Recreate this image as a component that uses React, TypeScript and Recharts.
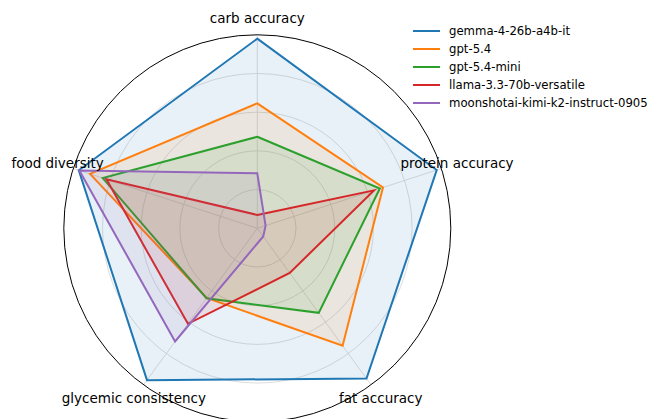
import { RadarChart, Radar, PolarGrid, PolarAngleAxis, PolarRadiusAxis, Legend } from 'recharts';

const AXES = ['carb accuracy', 'protein accuracy', 'fat accuracy', 'glycemic consistency', 'food diversity'];

const GEMMA = [0.98, 0.975, 0.96, 0.97, 0.97];
const GPT54 = [0.646, 0.683, 0.75, 0.445, 0.909];
const GPT54_MINI = [0.473, 0.666, 0.54, 0.447, 0.84];
const LLAMA = [0.069, 0.634, 0.285, 0.61, 0.82];
const KIMI = [0.284, 0.045, 0.052, 0.723, 0.967];

const SERIES = [
  { key: 'gemma', name: 'gemma-4-26b-a4b-it', values: GEMMA, color: '#1f77b4' },
  { key: 'gpt54', name: 'gpt-5.4', values: GPT54, color: '#ff7f0e' },
  { key: 'gpt54mini', name: 'gpt-5.4-mini', values: GPT54_MINI, color: '#2ca02c' },
  { key: 'llama', name: 'llama-3.3-70b-versatile', values: LLAMA, color: '#d62728' },
  { key: 'kimi', name: 'moonshotai-kimi-k2-instruct-0905', values: KIMI, color: '#9467bd' },
];

const data = AXES.map((axis, i) => {
  const row: Record<string, string | number> = { axis };
  SERIES.forEach((s) => {
    row[s.key] = s.values[i];
  });
  return row;
});

const CX = 249.3;
const CY = 220.3;
const R = 193.5;
const LABEL_R = 210;
const FONT = '"DejaVu Sans", sans-serif';

function AngleTick(props: any) {
  const { payload } = props;
  const idx = AXES.indexOf(payload.value);
  const a = ((90 - idx * 72) * Math.PI) / 180;
  const x = CX + LABEL_R * Math.cos(a);
  const y = CY - LABEL_R * Math.sin(a);
  return (
    <text x={x} y={y} textAnchor="middle" dominantBaseline="central" fontSize={13.5} fill="#000" fontFamily={FONT}>
      {payload.value}
    </text>
  );
}

function LegendBox() {
  return (
    <svg width={244} height={100} style={{ overflow: 'visible' }}>
      {SERIES.map((s, i) => (
        <g key={s.key}>
          <line x1={0} x2={27} y1={9 + i * 18} y2={9 + i * 18} stroke={s.color} strokeWidth={2} />
          <text x={36} y={9 + i * 18} dominantBaseline="central" fontSize={11.7} fontFamily={FONT} fill="#000">
            {s.name}
          </text>
        </g>
      ))}
    </svg>
  );
}

export default function App() {
  return (
    <div style={{ width: 649, height: 411, position: 'relative' }}>
      <RadarChart width={649} height={411} data={data} cx={CX} cy={CY} outerRadius={R} margin={{ top: 0, right: 0, bottom: 0, left: 0 }}>
        <PolarGrid
          gridType="circle"
          polarRadius={[0.2, 0.4, 0.6, 0.8].map((f) => f * R)}
          stroke="#d4d4d4"
          strokeWidth={0.8}
        />
        <PolarAngleAxis
          dataKey="axis"
          tick={<AngleTick />}
          tickLine={false}
          axisLineType="circle"
          axisLine={{ stroke: '#000', strokeWidth: 1 }}
        />
        <PolarRadiusAxis domain={[0, 1]} tick={false} axisLine={false} />
        {SERIES.map((s) => (
          <Radar
            key={s.key}
            name={s.name}
            dataKey={s.key}
            stroke={s.color}
            strokeWidth={2}
            fill={s.color}
            fillOpacity={0.1}
            isAnimationActive={false}
          />
        ))}
        <Legend
          content={<LegendBox />}
          wrapperStyle={{ position: 'absolute', left: 405, top: 14, width: 244 }}
        />
      </RadarChart>
    </div>
  );
}
